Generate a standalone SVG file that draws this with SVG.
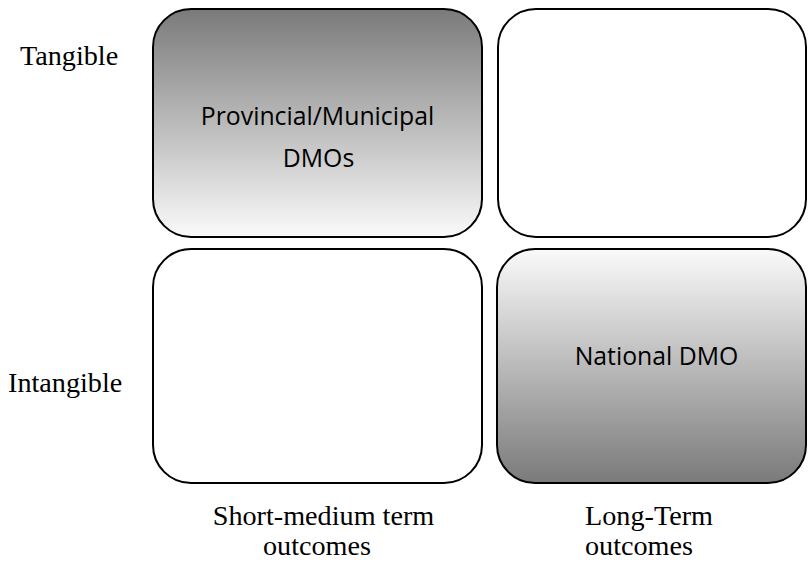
<svg xmlns="http://www.w3.org/2000/svg" width="809" height="563" viewBox="0 0 809 563">
<style>
.box{stroke:#000;stroke-width:2}
.lbl{font-family:"Liberation Serif","Times New Roman",serif;font-size:28.2px;fill:#000}
.in{font-family:"Open Sans","Noto Sans",sans-serif;font-size:24.8px;fill:#000;text-anchor:middle}
</style>
<defs>
<linearGradient id="gDown" x1="0" y1="0" x2="0" y2="1">
<stop offset="0" stop-color="#7a7a7a"/>
<stop offset="1" stop-color="#fafafa"/>
</linearGradient>
<linearGradient id="gUp" x1="0" y1="0" x2="0" y2="1">
<stop offset="0" stop-color="#fafafa"/>
<stop offset="1" stop-color="#7a7a7a"/>
</linearGradient>
</defs>
<rect width="809" height="563" fill="#fff"/>
<g id="tangible-label"><text class="lbl" x="20" y="65">Tangible</text></g>
<g id="intangible-label"><text class="lbl" x="8" y="392">Intangible</text></g>
<g id="node-provincial">
<rect class="box" x="153" y="9" width="329" height="228" rx="38" ry="38" fill="url(#gDown)"/>
<text class="in" x="317.5" y="125">Provincial/Municipal</text>
<text class="in" x="318.5" y="167">DMOs</text>
</g>
<g id="node-top-right"><rect class="box" x="498" y="9" width="308" height="228" rx="38" ry="38" fill="#fff"/></g>
<g id="node-bottom-left"><rect class="box" x="153" y="249" width="329" height="234" rx="38" ry="38" fill="#fff"/></g>
<g id="node-national">
<rect class="box" x="497" y="249" width="309" height="234" rx="38" ry="38" fill="url(#gUp)"/>
<text class="in" x="656.5" y="365">National DMO</text>
</g>
<g id="connectors"></g>
<g id="short-label"><text class="lbl" x="323.5" y="525" text-anchor="middle">Short-medium term</text><text class="lbl" x="317" y="555" text-anchor="middle">outcomes</text></g>
<g id="long-label"><text class="lbl" x="585" y="525">Long-Term</text><text class="lbl" x="585" y="555">outcomes</text></g>
</svg>
